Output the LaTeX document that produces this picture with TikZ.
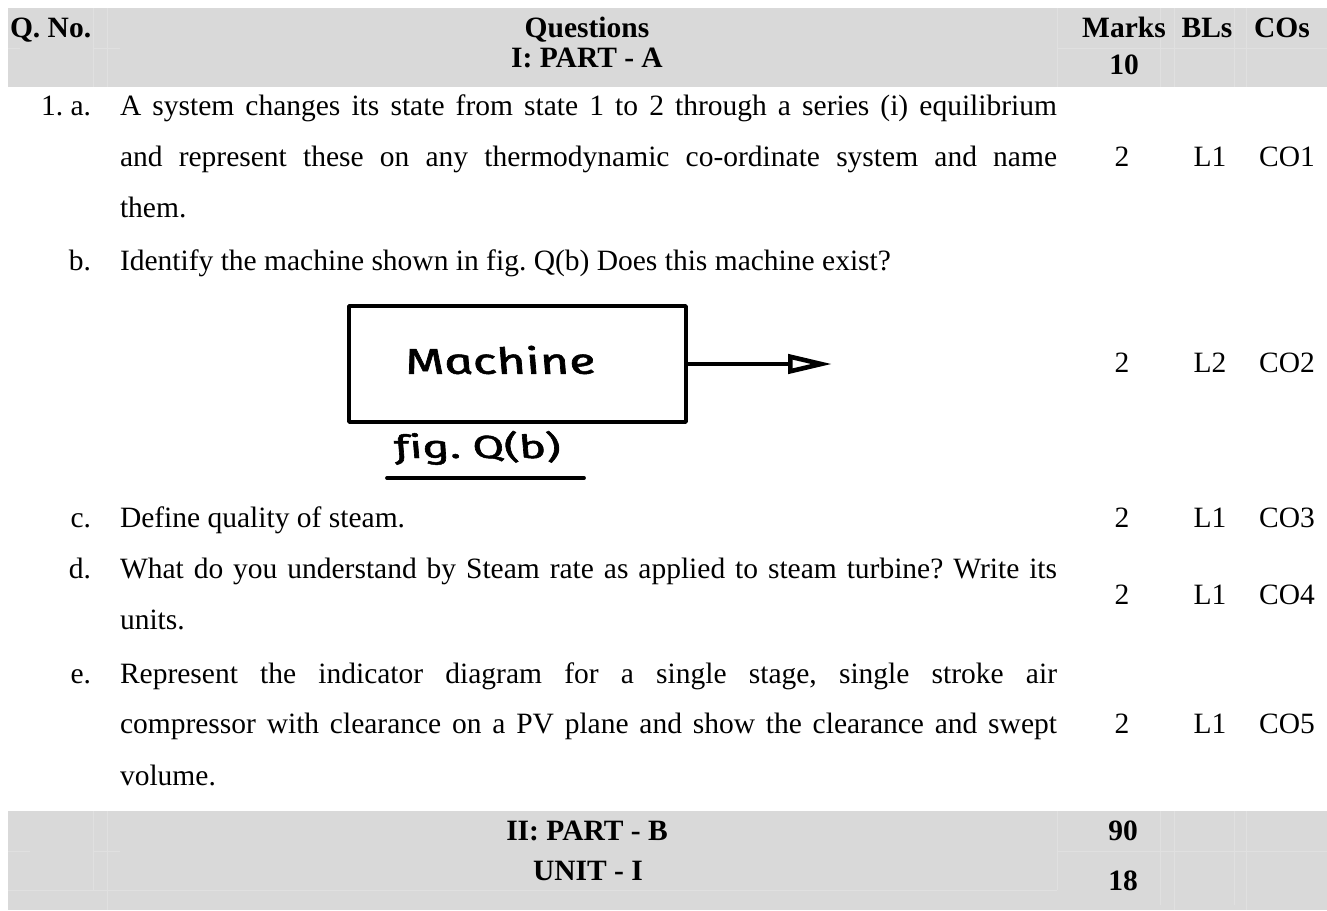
\documentclass[tikz,border=0pt]{standalone}
\usepackage{fontspec}
\setmainfont{Liberation Serif}
\newfontfamily\handfont{Fira Sans Italic}[FakeSlant=-0.2, FakeBold=1.4, Ligatures=NoCommon]
\usetikzlibrary{arrows.meta}
\frenchspacing
\definecolor{bandgray}{RGB}{217,217,217}
\definecolor{bandline}{RGB}{224,224,224}
\newcommand\jline[1]{\makebox[937pt][s]{#1}}
\tikzset{
  txt/.style={inner sep=0pt, outer sep=0pt, font=\fontsize{29.5}{35}\selectfont},
  hd/.style={txt, font=\fontsize{29.5}{35}\selectfont\bfseries},
  lbl/.style={txt, anchor=base east},
  qtext/.style={txt, anchor=base west},
  mcol/.style={txt, anchor=base},
  cellrule/.style={draw=bandline, line width=0.8pt},
  handline/.style={line width=3.8pt, line cap=round, line join=round},
  handbox/.style={handline, draw, minimum width=337pt, minimum height=116pt, inner sep=0pt},
  handtext/.style={inner sep=0pt, font=\handfont\fontsize{36}{42}\selectfont},
}
\begin{document}
\begin{tikzpicture}[x=1pt,y=-1pt]
\useasboundingbox (0,0) rectangle (1327,910);

% shaded header and part-B bands
\fill[bandgray] (8,8) rectangle (1327,87);
\fill[bandgray] (8,811) rectangle (1327,910);

% faint cell borders inside the bands
\draw[cellrule] (93,8) -- (93,87) (107,8) -- (107,87)
  (1057,8) -- (1057,87) (1160,8) -- (1160,87) (1174,8) -- (1174,87)
  (1234,8) -- (1234,87) (1246,8) -- (1246,87);
\draw[cellrule] (8,48) -- (20,48) (93,48) -- (120,48) (1057,48) -- (1327,48);
\draw[cellrule] (93,811) -- (93,890) (107,811) -- (107,910)
  (1057,811) -- (1057,890) (1160,811) -- (1160,905) (1174,811) -- (1174,910)
  (1234,811) -- (1234,905) (1246,811) -- (1246,910);
\draw[cellrule] (8,851) -- (30,851) (93,851) -- (120,851) (1057,851) -- (1327,851)
  (8,890) -- (1057,890);

% header
\node[hd, anchor=base west] (qno) at (10,37) {Q. No.};
\node[hd, anchor=base] (qhead) at (587,37) {Questions};
\node[hd, anchor=base] (mhead) at (1124,37) {Marks};
\node[hd, anchor=base] (bhead) at (1207,37) {BLs};
\node[hd, anchor=base] (chead) at (1282,37) {COs};
\node[hd, anchor=base] (parta) at (587,67) {I: PART - A};
\node[hd, anchor=base] (partam) at (1124,74) {10};

% question 1 a
\node[lbl] (la) at (91,115) {1. a.};
\node[qtext] (qa1) at (120,115) {\jline{A system changes its state from state 1 to 2 through a series (i) equilibrium}};
\node[qtext] (qa2) at (120,166) {\jline{and represent these on any thermodynamic co-ordinate system and name}};
\node[qtext] (qa3) at (120,217) {them.};
\node[mcol] (ma) at (1122,166) {2};
\node[mcol] (ba) at (1210,166) {L1};
\node[mcol] (ca) at (1287,166) {CO1};

% question 1 b
\node[lbl] (lb) at (91,270) {b.};
\node[qtext] (qb1) at (120,270) {Identify the machine shown in fig. Q(b) Does this machine exist?};
\node[mcol] (mb) at (1122,372) {2};
\node[mcol] (bb) at (1210,372) {L2};
\node[mcol] (cb) at (1287,372) {CO2};

% sketch of the machine
\node[handbox] (machine) at (517.5,364) {};
\node[handtext] (mtext) at (503,360) {\scalebox{1.4}[1]{Machine}};
\coordinate (tip) at (832,364);
\draw[handline, -{Triangle[open, length=44pt, width=19pt, line width=4.6pt]}] (machine) -- (tip);
\node[handtext, anchor=base, font=\handfont\fontsize{32}{38}\selectfont] (fig) at (480,458) {\scalebox{1.45}[1]{fig. Q(b)}};
\coordinate (ulA) at (387,478);
\coordinate (ulB) at (584,478);
\draw[handline] (ulA) -- (ulB);

% question 1 c
\node[lbl] (lc) at (91,527) {c.};
\node[qtext] (qc1) at (120,527) {Define quality of steam.};
\node[mcol] (mc) at (1122,527) {2};
\node[mcol] (bc) at (1210,527) {L1};
\node[mcol] (cc) at (1287,527) {CO3};

% question 1 d
\node[lbl] (ld) at (91,578) {d.};
\node[qtext] (qd1) at (120,578) {\jline{What do you understand by Steam rate as applied to steam turbine? Write its}};
\node[qtext] (qd2) at (120,629) {units.};
\node[mcol] (md) at (1122,604) {2};
\node[mcol] (bd) at (1210,604) {L1};
\node[mcol] (cd) at (1287,604) {CO4};

% question 1 e
\node[lbl] (le) at (91,683) {e.};
\node[qtext] (qe1) at (120,683) {\jline{Represent the indicator diagram for a single stage, single stroke air}};
\node[qtext] (qe2) at (120,733) {\jline{compressor with clearance on a PV plane and show the clearance and swept}};
\node[qtext] (qe3) at (120,785) {volume.};
\node[mcol] (me) at (1122,733) {2};
\node[mcol] (be) at (1210,733) {L1};
\node[mcol] (ce) at (1287,733) {CO5};

% part B band
\node[hd, anchor=base] (partb) at (587,840) {II: PART - B};
\node[hd, anchor=base] (unit) at (588,880) {UNIT - I};
\node[hd, anchor=base] (partbm) at (1123,840) {90};
\node[hd, anchor=base] (unitm) at (1123,890) {18};
\end{tikzpicture}
\end{document}
